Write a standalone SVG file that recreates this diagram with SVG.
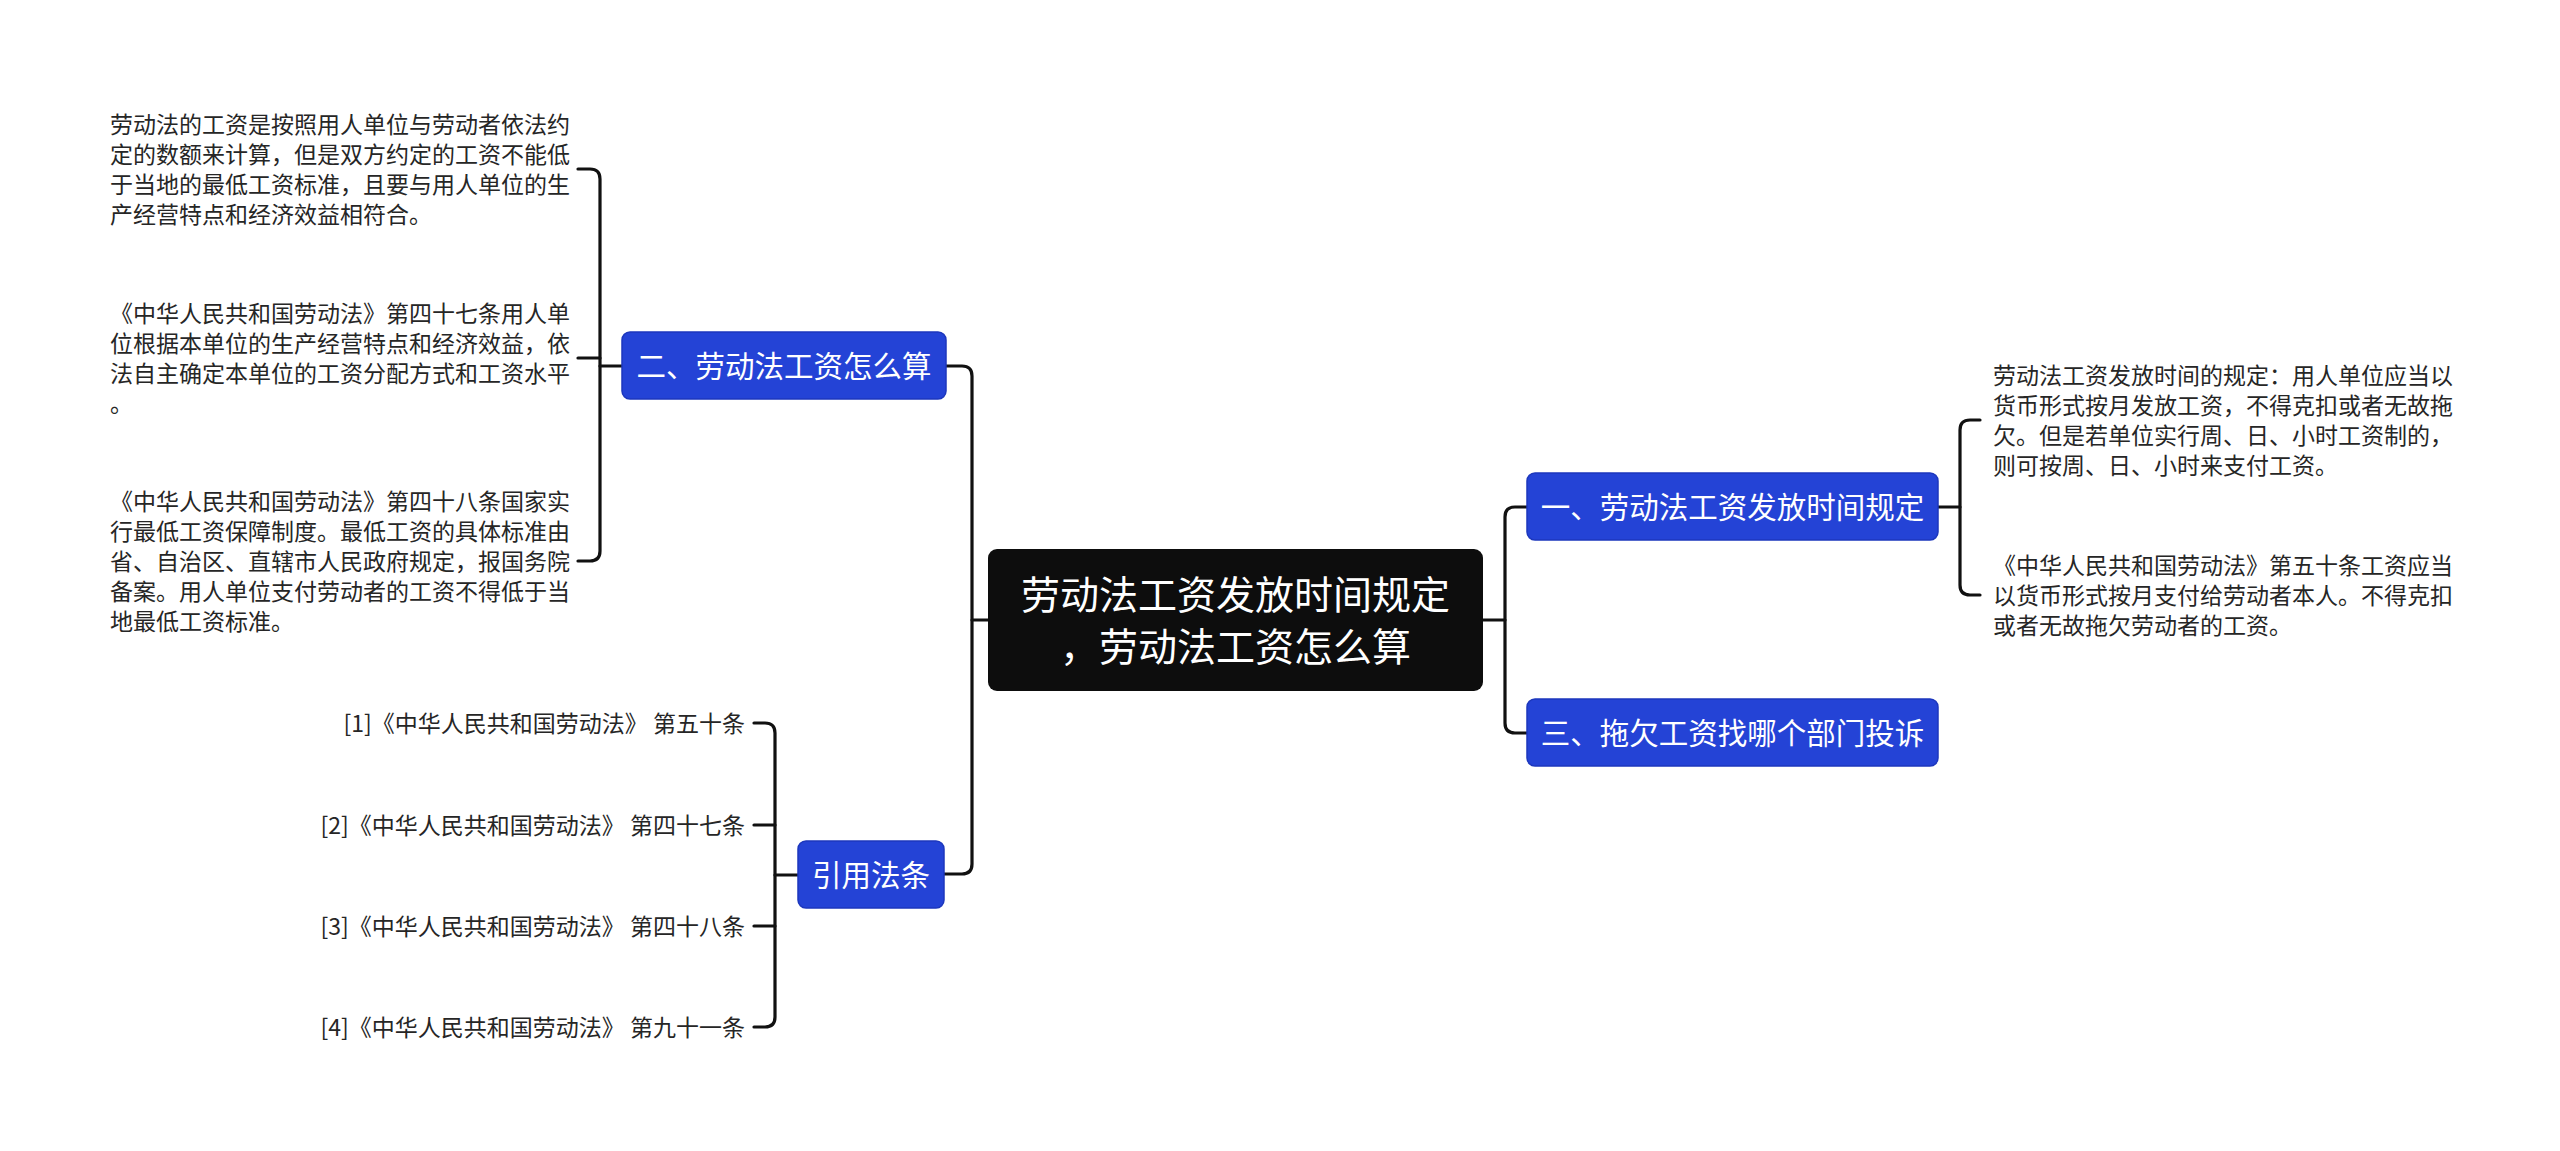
<svg xmlns="http://www.w3.org/2000/svg" width="2560" height="1151" viewBox="0 0 2560 1151">
<style>
.bg{fill:#ffffff}
.conn path{fill:none;stroke:#111111;stroke-width:3.2;stroke-linecap:round;stroke-linejoin:round}
.blue{fill:#2443d6;stroke:#1c37bd;stroke-width:1.5}
.root{fill:#0d0d0d}
.t{font-family:"Noto Sans CJK SC","Noto Sans",sans-serif;fill:#262626;font-size:23px}
.nt{font-family:"Noto Sans CJK SC","Noto Sans",sans-serif;fill:#ffffff;font-size:29.5px;text-anchor:middle}
.rt{font-family:"Noto Sans CJK SC","Noto Sans",sans-serif;fill:#ffffff;font-size:39px;text-anchor:middle}
.ce{text-anchor:end}
</style>
<rect class="bg" x="0" y="0" width="2560" height="1151"/>
<g id="connectors" class="conn">
<path d="M988,620 H972"/>
<path d="M946,366 H962 Q972,366 972,376 V864 Q972,874 962,874 H944"/>
<path d="M1483,620 H1505"/>
<path d="M1527,507 H1515 Q1505,507 1505,517 V723 Q1505,733 1515,733 H1527"/>
<path d="M578,169 H590 Q600,169 600,179 V551 Q600,561 590,561 H578"/>
<path d="M578,358 H600"/>
<path d="M600,366 H622"/>
<path d="M754,723 H765 Q775,723 775,733 V1017 Q775,1027 765,1027 H754"/>
<path d="M754,825 H775"/>
<path d="M754,926 H775"/>
<path d="M775,875 H798"/>
<path d="M1938,507 H1960"/>
<path d="M1980,420 H1970 Q1960,420 1960,430 V585 Q1960,595 1970,595 H1980"/>
</g>
<g id="root">
<rect class="root" x="988" y="549" width="495" height="142" rx="9"/>
<text class="rt" x="1235.5" y="609">劳动法工资发放时间规定</text>
<text class="rt" x="1235.5" y="661">，劳动法工资怎么算</text>
</g>
<g id="node-2">
<rect class="blue" x="622" y="332" width="324" height="67" rx="8"/>
<text class="nt" x="784" y="377">二、劳动法工资怎么算</text>
</g>
<g id="node-cite">
<rect class="blue" x="798" y="841" width="146" height="67" rx="8"/>
<text class="nt" x="871" y="886">引用法条</text>
</g>
<g id="node-1">
<rect class="blue" x="1527" y="473" width="411" height="67" rx="8"/>
<text class="nt" x="1732.5" y="518">一、劳动法工资发放时间规定</text>
</g>
<g id="node-3">
<rect class="blue" x="1527" y="699" width="411" height="67" rx="8"/>
<text class="nt" x="1732.5" y="744">三、拖欠工资找哪个部门投诉</text>
</g>
<g id="leaf-2a">
<text class="t" x="110" y="133">劳动法的工资是按照用人单位与劳动者依法约</text>
<text class="t" x="110" y="163">定的数额来计算，但是双方约定的工资不能低</text>
<text class="t" x="110" y="193">于当地的最低工资标准，且要与用人单位的生</text>
<text class="t" x="110" y="223">产经营特点和经济效益相符合。</text>
</g>
<g id="leaf-2b">
<text class="t" x="110" y="322">《中华人民共和国劳动法》第四十七条用人单</text>
<text class="t" x="110" y="352">位根据本单位的生产经营特点和经济效益，依</text>
<text class="t" x="110" y="382">法自主确定本单位的工资分配方式和工资水平</text>
<text class="t" x="110" y="412">。</text>
</g>
<g id="leaf-2c">
<text class="t" x="110" y="510">《中华人民共和国劳动法》第四十八条国家实</text>
<text class="t" x="110" y="540">行最低工资保障制度。最低工资的具体标准由</text>
<text class="t" x="110" y="570">省、自治区、直辖市人民政府规定，报国务院</text>
<text class="t" x="110" y="600">备案。用人单位支付劳动者的工资不得低于当</text>
<text class="t" x="110" y="630">地最低工资标准。</text>
</g>
<g id="leaf-c1"><text class="t ce" x="745" y="732">[1]《中华人民共和国劳动法》 第五十条</text></g>
<g id="leaf-c2"><text class="t ce" x="745" y="834">[2]《中华人民共和国劳动法》 第四十七条</text></g>
<g id="leaf-c3"><text class="t ce" x="745" y="935">[3]《中华人民共和国劳动法》 第四十八条</text></g>
<g id="leaf-c4"><text class="t ce" x="745" y="1036">[4]《中华人民共和国劳动法》 第九十一条</text></g>
<g id="leaf-1a">
<text class="t" x="1993" y="384">劳动法工资发放时间的规定：用人单位应当以</text>
<text class="t" x="1993" y="414">货币形式按月发放工资，不得克扣或者无故拖</text>
<text class="t" x="1993" y="444">欠。但是若单位实行周、日、小时工资制的，</text>
<text class="t" x="1993" y="474">则可按周、日、小时来支付工资。</text>
</g>
<g id="leaf-1b">
<text class="t" x="1993" y="574">《中华人民共和国劳动法》第五十条工资应当</text>
<text class="t" x="1993" y="604">以货币形式按月支付给劳动者本人。不得克扣</text>
<text class="t" x="1993" y="634">或者无故拖欠劳动者的工资。</text>
</g>
</svg>
